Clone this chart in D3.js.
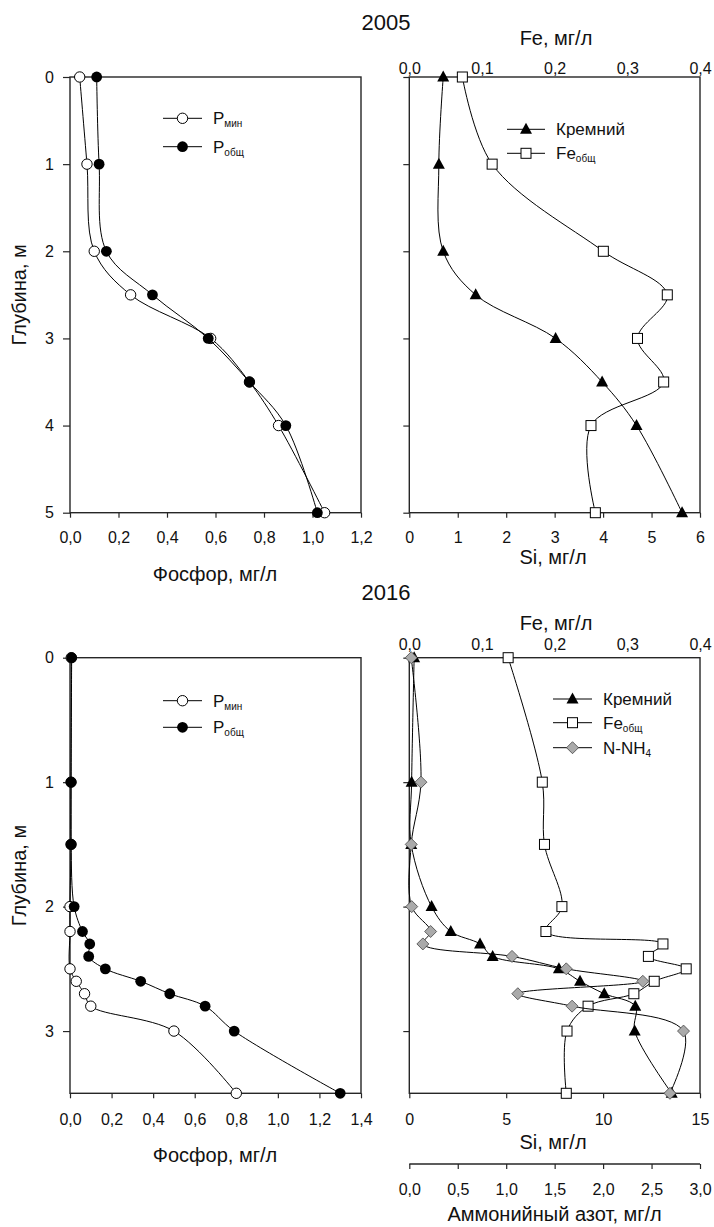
<!DOCTYPE html>
<html><head><meta charset="utf-8">
<script src="https://cdn.jsdelivr.net/npm/d3@7"></script>
<style>
body{margin:0;background:#fff;}
svg{display:block;font-family:"Liberation Sans",Arial,sans-serif;}
</style></head>
<body><svg id="c" width="714" height="1227"></svg>
<script>
// ---------- DATA ----------
const depth2005 = [0, 1, 2, 2.5, 3, 3.5, 4, 5];
const pMin2005  = [0.04, 0.07, 0.10, 0.25, 0.58, 0.74, 0.86, 1.05];
const pTot2005  = [0.11, 0.12, 0.15, 0.34, 0.57, 0.74, 0.89, 1.02];
const si2005    = [0.70, 0.61, 0.70, 1.37, 3.02, 3.98, 4.69, 5.63];
const fe2005    = [0.073, 0.114, 0.267, 0.355, 0.314, 0.350, 0.250, 0.256];

const depthPmin2016 = [0, 1, 1.5, 2, 2.2, 2.5, 2.6, 2.7, 2.8, 3, 3.5];
const pMin2016      = [0.006, 0.005, 0.005, 0, 0, 0, 0.03, 0.07, 0.10, 0.50, 0.80];
const depth2016     = [0, 1, 1.5, 2, 2.2, 2.3, 2.4, 2.5, 2.6, 2.7, 2.8, 3, 3.5];
const pTot2016      = [0.008, 0.005, 0.005, 0.02, 0.06, 0.095, 0.09, 0.17, 0.34, 0.48, 0.65, 0.79, 1.30];
const si2016        = [0.25, 0.12, 0.10, 1.15, 2.14, 3.65, 4.30, 7.72, 8.81, 10.06, 11.66, 11.63, 13.54];
const fe2016        = [0.136, 0.183, 0.186, 0.210, 0.188, 0.349, 0.329, 0.381, 0.337, 0.309, 0.246, 0.217, 0.216];
const nh4_2016      = [0.02, 0.12, 0.02, 0.025, 0.22, 0.14, 1.06, 1.62, 2.41, 1.12, 1.68, 2.83, 2.69];

const yTicks2005 = [0, 1, 2, 3, 4, 5];
const yTicks2016 = [0, 1, 2, 3];
const pTicks2005 = [0, 0.2, 0.4, 0.6, 0.8, 1.0, 1.2];
const pTicks2016 = [0, 0.2, 0.4, 0.6, 0.8, 1.0, 1.2, 1.4];
const siTicks2005 = [0, 1, 2, 3, 4, 5, 6];
const siTicks2016 = [0, 5, 10, 15];
const feTicks = [0, 0.1, 0.2, 0.3, 0.4];
const nhTicks = [0, 0.5, 1.0, 1.5, 2.0, 2.5, 3.0];

const titles = {y2005: "2005", y2016: "2016", depth: "Глубина, м", phos: "Фосфор, мг/л",
  si: "Si, мг/л", fe: "Fe, мг/л", nh: "Аммонийный азот, мг/л"};

// ---------- LAYOUT ----------
const svg = d3.select("#c");
const AX = "#262626";
const TF = 20; // axis title font size
const L = {x0: 70, x1: 361}, R = {x0: 409.3, x1: 700};
const top05 = 77, bot05 = 512.7, top16 = 657.7, bot16 = 1093.3;

const fmt = dec => d => d.toFixed(dec).replace(".", ",");

const y05 = d3.scaleLinear().domain([0, 5]).range([top05, bot05]);
const y16 = d3.scaleLinear().domain([0, 3.5]).range([top16, bot16]);
const xP05 = d3.scaleLinear().domain([0, 1.2]).range([L.x0, L.x1]);
const xP16 = d3.scaleLinear().domain([0, 1.4]).range([L.x0, L.x1]);
const xSi05 = d3.scaleLinear().domain([0, 6]).range([R.x0, R.x1]);
const xFe05 = d3.scaleLinear().domain([0, 0.4]).range([R.x0, R.x1]);
const xSi16 = d3.scaleLinear().domain([0, 15]).range([R.x0, R.x1]);
const xFe16 = d3.scaleLinear().domain([0, 0.4]).range([R.x0, R.x1]);
const xNH = d3.scaleLinear().domain([0, 3]).range([R.x0, R.x1]);

function styleAxis(g, fs) {
  g.select(".domain").remove();
  g.selectAll("line").attr("stroke", AX).attr("stroke-width", 1.2);
  g.selectAll("text").attr("font-size", fs).attr("fill", "#111")
   .attr("font-family", "'Liberation Sans',Arial,sans-serif");
}
function box(x0, x1, y0, y1) {
  svg.append("rect").attr("x", x0).attr("y", y0).attr("width", x1 - x0).attr("height", y1 - y0)
    .attr("fill", "none").attr("stroke", AX).attr("stroke-width", 1.4);
}
function text(x, y, s, fs, anchor, rot) {
  const t = svg.append("text").attr("font-size", fs).attr("fill", "#111")
    .attr("text-anchor", anchor || "middle").text(s);
  if (rot) t.attr("transform", `translate(${x},${y}) rotate(${rot})`);
  else t.attr("x", x).attr("y", y);
  return t;
}

const lineGen = (xs, ys) => d3.line().x(d => xs(d[0])).y(d => ys(d[1])).curve(d3.curveCatmullRom.alpha(0.5));

function series(vals, depths, xs, ys, marker) {
  const pts = vals.map((v, i) => [v, depths[i]]);
  svg.append("path").attr("d", lineGen(xs, ys)(pts)).attr("fill", "none")
    .attr("stroke", "#000").attr("stroke-width", 1);
  pts.forEach(p => drawMarker(xs(p[0]), ys(p[1]), marker));
}
function drawMarker(x, y, m) {
  if (m === "open") svg.append("circle").attr("cx", x).attr("cy", y).attr("r", 5.2)
    .attr("fill", "#fff").attr("stroke", "#000").attr("stroke-width", 1);
  else if (m === "fill") svg.append("circle").attr("cx", x).attr("cy", y).attr("r", 5.4).attr("fill", "#000");
  else if (m === "tri") svg.append("path").attr("d", `M${x},${y - 6.5}L${x + 6},${y + 4.5}L${x - 6},${y + 4.5}Z`).attr("fill", "#000");
  else if (m === "sq") svg.append("rect").attr("x", x - 5).attr("y", y - 5).attr("width", 10).attr("height", 10)
    .attr("fill", "#fff").attr("stroke", "#000").attr("stroke-width", 1);
  else if (m === "dia") svg.append("path").attr("d", `M${x},${y - 6}L${x + 6},${y}L${x},${y + 6}L${x - 6},${y}Z`)
    .attr("fill", "#aaaaaa").attr("stroke", "#444").attr("stroke-width", 0.8);
}
function legendRow(x0, x1, y, marker, label, sub) {
  svg.append("line").attr("x1", x0).attr("x2", x1).attr("y1", y).attr("y2", y).attr("stroke", "#000").attr("stroke-width", 1);
  drawMarker((x0 + x1) / 2, y, marker);
  const t = svg.append("text").attr("x", x1 + 11).attr("y", y + 6).attr("font-size", 17).attr("fill", "#111").text(label);
  if (sub) t.append("tspan").attr("font-size", sub.fs).attr("dy", sub.dy).text(sub.t);
}

// ---------- 2005 ----------
text(386, 30, titles.y2005, 22);

// left panel
box(L.x0, L.x1, top05, bot05);
styleAxis(svg.append("g").attr("transform", `translate(${L.x0},0)`)
  .call(d3.axisLeft(y05).tickValues(yTicks2005).tickSize(7).tickPadding(9).tickFormat(d3.format("d"))), 16);
styleAxis(svg.append("g").attr("transform", `translate(0,${bot05})`)
  .call(d3.axisBottom(xP05).tickValues(pTicks2005).tickSize(5).tickPadding(14).tickFormat(fmt(1))), 16);
text(215, 581, titles.phos, TF);
text(26, (top05 + bot05) / 2, titles.depth, TF, "middle", -90);
series(pMin2005, depth2005, xP05, y05, "open");
series(pTot2005, depth2005, xP05, y05, "fill");
legendRow(163, 202, 118.3, "open", "P", {t: "мин", fs: 10, dy: 3});
legendRow(163, 202, 146.7, "fill", "P", {t: "общ", fs: 10, dy: 3});

// right panel
box(R.x0, R.x1, top05, bot05);
styleAxis(svg.append("g").attr("transform", `translate(${R.x0},0)`)
  .call(d3.axisLeft(y05).tickValues(yTicks2005).tickSize(6).tickFormat("")), 16);
styleAxis(svg.append("g").attr("transform", `translate(0,${bot05})`)
  .call(d3.axisBottom(xSi05).tickValues(siTicks2005).tickSize(5).tickPadding(14).tickFormat(d3.format("d"))), 16);
styleAxis(svg.append("g").attr("transform", `translate(0,${top05})`)
  .call(d3.axisTop(xFe05).tickValues(feTicks).tickSize(0).tickPadding(3).tickFormat(fmt(1))), 16);
text(553, 564, titles.si, TF);
text(556, 45, titles.fe, TF);
series(si2005, depth2005, xSi05, y05, "tri");
series(fe2005, depth2005, xFe05, y05, "sq");
legendRow(507, 545, 129.3, "tri", "Кремний");
legendRow(507, 545, 153.3, "sq", "Fe", {t: "общ", fs: 10, dy: 3});

// ---------- 2016 ----------
text(386, 600, titles.y2016, 22);

box(L.x0, L.x1, top16, bot16);
styleAxis(svg.append("g").attr("transform", `translate(${L.x0},0)`)
  .call(d3.axisLeft(y16).tickValues(yTicks2016).tickSize(7).tickPadding(9).tickFormat(d3.format("d"))), 16);
styleAxis(svg.append("g").attr("transform", `translate(0,${bot16})`)
  .call(d3.axisBottom(xP16).tickValues(pTicks2016).tickSize(5).tickPadding(15).tickFormat(fmt(1))), 16);
text(215, 1162, titles.phos, TF);
text(26, (top16 + bot16) / 2, titles.depth, TF, "middle", -90);
series(pMin2016, depthPmin2016, xP16, y16, "open");
series(pTot2016, depth2016, xP16, y16, "fill");
legendRow(163, 202, 700.7, "open", "P", {t: "мин", fs: 10, dy: 3});
legendRow(163, 202, 727.3, "fill", "P", {t: "общ", fs: 10, dy: 3});

box(R.x0, R.x1, top16, bot16);
styleAxis(svg.append("g").attr("transform", `translate(${R.x0},0)`)
  .call(d3.axisLeft(y16).tickValues(yTicks2016).tickSize(6).tickFormat("")), 16);
styleAxis(svg.append("g").attr("transform", `translate(0,${bot16})`)
  .call(d3.axisBottom(xSi16).tickValues(siTicks2016).tickSize(5).tickPadding(15).tickFormat(d3.format("d"))), 16);
styleAxis(svg.append("g").attr("transform", `translate(0,${top16})`)
  .call(d3.axisTop(xFe16).tickValues(feTicks).tickSize(0).tickPadding(8).tickFormat(fmt(1))), 16);
// ammonium axis
const nhY = 1164;
svg.append("line").attr("x1", R.x0).attr("x2", R.x1).attr("y1", nhY).attr("y2", nhY).attr("stroke", AX).attr("stroke-width", 1.4);
styleAxis(svg.append("g").attr("transform", `translate(0,${nhY})`)
  .call(d3.axisBottom(xNH).tickValues(nhTicks).tickSize(5).tickPadding(15).tickFormat(fmt(1))), 16);
text(553, 1149, titles.si, TF);
text(556, 630, titles.fe, TF);
text(554.6, 1221, titles.nh, TF);
series(si2016, depth2016, xSi16, y16, "tri");
series(fe2016, depth2016, xFe16, y16, "sq");
series(nh4_2016, depth2016, xNH, y16, "dia");
legendRow(553, 592, 699, "tri", "Кремний");
legendRow(553, 592, 722.7, "sq", "Fe", {t: "общ", fs: 10, dy: 3});
legendRow(553, 592, 747.7, "dia", "N-NH", {t: "4", fs: 10, dy: 3});
</script></body></html>
